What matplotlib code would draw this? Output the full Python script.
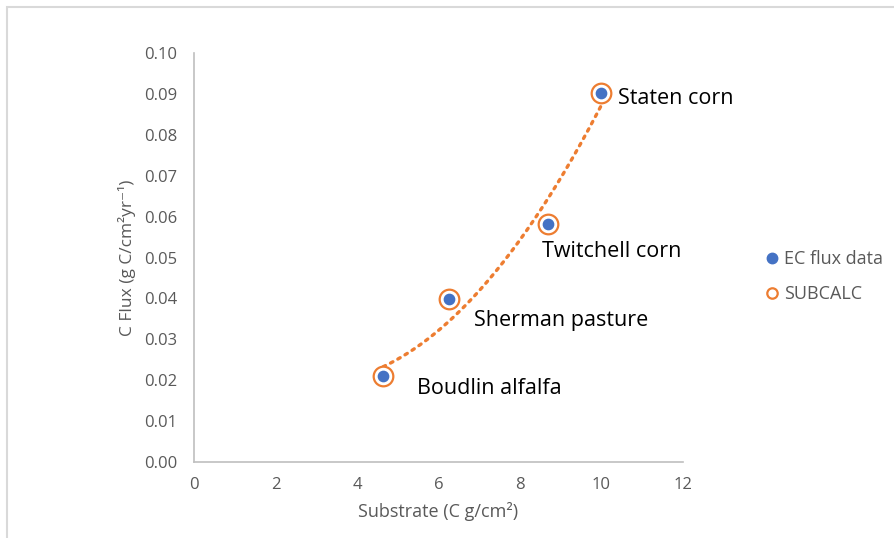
import numpy as np
import matplotlib
matplotlib.use("Agg")
import matplotlib.pyplot as plt
from matplotlib.patches import Rectangle
from matplotlib.lines import Line2D

plt.rcParams['font.family'] = ['Open Sans', 'DejaVu Sans']

sites = ["Boudlin alfalfa", "Sherman pasture", "Twitchell corn", "Staten corn"]
substrate = [4.64, 6.26, 8.69, 9.99]
ec_flux = [0.0210, 0.0399, 0.0582, 0.0902]
subcalc = [0.0210, 0.0399, 0.0582, 0.0902]

xticks = [0, 2, 4, 6, 8, 10, 12]
yticks = [0.00, 0.01, 0.02, 0.03, 0.04, 0.05, 0.06, 0.07, 0.08, 0.09, 0.10]

BLUE = "#4472C4"
ORANGE = "#ED7D31"
GREY = "#595959"
SPINE = "#BFBFBF"

W, H = 894, 538
fig = plt.figure(figsize=(W / 100, H / 100), dpi=100)

# outer chart-area frame
fig.patches.append(Rectangle((7 / W, -0.05), 1.2, 1 - 7 / H + 0.05,
                             transform=fig.transFigure, fill=False,
                             edgecolor="#D9D9D9", linewidth=1.5))

ax = fig.add_axes([194 / W, 1 - 462 / H, (683 - 194) / W, (462 - 53) / H])
ax.set_xlim(0, 12)
ax.set_ylim(0, 0.10)
ax.set_xticks(xticks)
ax.set_yticks(yticks)
ax.set_xticklabels([str(t) for t in xticks])
ax.set_yticklabels([f"{t:.2f}" for t in yticks])
ax.tick_params(length=0, colors=GREY, labelsize=12, pad=12)
ax.tick_params(axis="x", pad=11)
for s in ["top", "right"]:
    ax.spines[s].set_visible(False)
for s in ["left", "bottom"]:
    ax.spines[s].set_color(SPINE)
    ax.spines[s].set_linewidth(1.2)

# second-order polynomial trendline through the SUBCALC series
coef = np.polyfit(substrate, subcalc, 2)
xs = np.linspace(min(substrate), max(substrate), 200)
ax.plot(xs, np.polyval(coef, xs), linestyle=(0, (0.8, 1.7)), color=ORANGE,
        linewidth=2.4, dash_capstyle="round", zorder=2)

ax.scatter(substrate, subcalc, s=200, facecolors="white", edgecolors=ORANGE,
           linewidths=1.6, zorder=3)
ax.scatter(substrate, ec_flux, s=55, color=BLUE, zorder=4)

offsets = [(34, -12), (25, -22), (-6, -28), (17, -5)]
for name, x, y, (dx, dy) in zip(sites, substrate, ec_flux, offsets):
    ax.annotate(name, (x, y), xytext=(dx, dy), textcoords="offset pixels",
                fontsize=15.5, color="black", ha="left", va="center")

ax.set_xlabel("Substrate (C g/cm²)", color=GREY, fontsize=13, labelpad=6)
ax.set_ylabel("C Flux (g C/cm²yr⁻¹)", color=GREY, fontsize=12.5, labelpad=6)

handles = [
    Line2D([], [], marker="o", linestyle="none", markerfacecolor=BLUE,
           markeredgecolor=BLUE, markersize=7.5, label="EC flux data"),
    Line2D([], [], marker="o", linestyle="none", markerfacecolor="white",
           markeredgecolor=ORANGE, markeredgewidth=1.6, markersize=7.5, label="SUBCALC"),
]
leg = fig.legend(handles=handles, loc="upper left", bbox_to_anchor=(745 / W, 1 - 234 / H),
                 frameon=False, fontsize=13, handletextpad=0.05, labelspacing=0.95,
                 handlelength=1.2)
for t in leg.get_texts():
    t.set_color(GREY)

fig.savefig("out.png", dpi=100)
